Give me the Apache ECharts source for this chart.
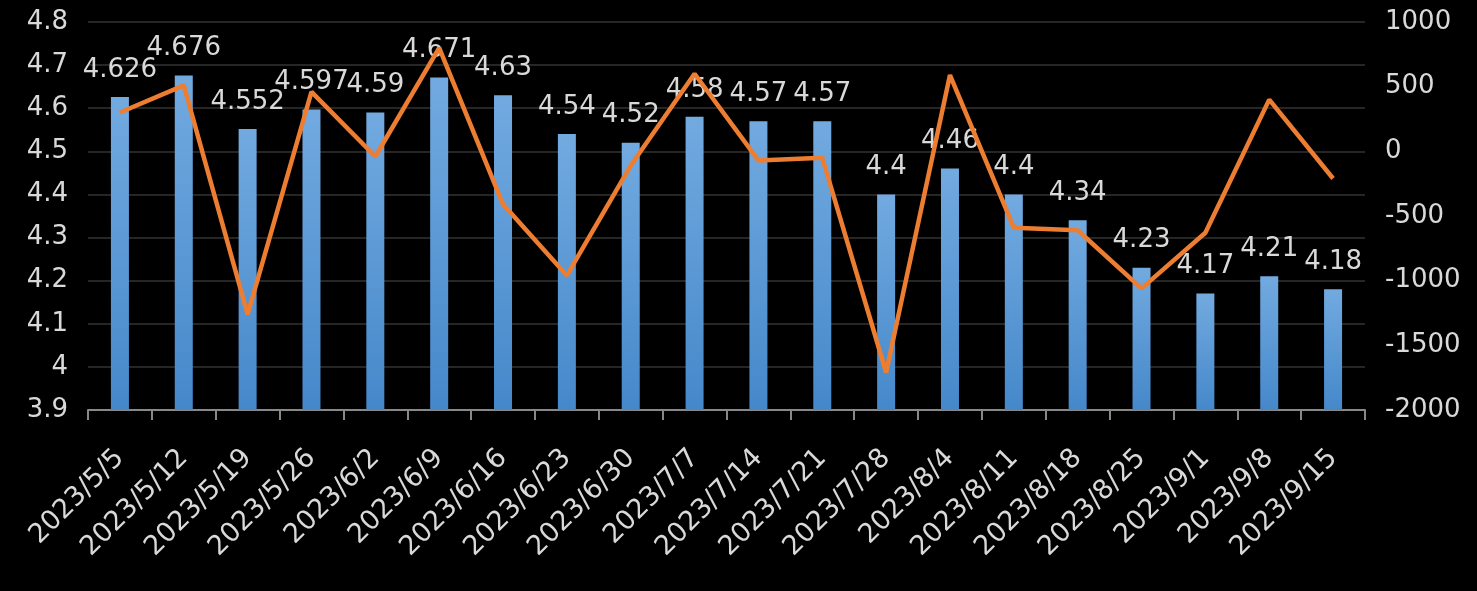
<!DOCTYPE html>
<html>
<head>
<meta charset="utf-8">
<script src="https://cdn.jsdelivr.net/npm/echarts@6/dist/echarts.min.js"></script>
<style>
html,body{margin:0;padding:0;background:#000;}
#main{width:1477px;height:591px;}
</style>
</head>
<body>
<div id="main"></div>
<script>
const categories = ['2023/5/5','2023/5/12','2023/5/19','2023/5/26','2023/6/2','2023/6/9','2023/6/16','2023/6/23','2023/6/30','2023/7/7','2023/7/14','2023/7/21','2023/7/28','2023/8/4','2023/8/11','2023/8/18','2023/8/25','2023/9/1','2023/9/8','2023/9/15'];
const barValues = [4.626,4.676,4.552,4.597,4.59,4.671,4.63,4.54,4.52,4.58,4.57,4.57,4.4,4.46,4.4,4.34,4.23,4.17,4.21,4.18];
const lineValues = [300,510,-1260,460,-40,800,-410,-960,-110,600,-70,-50,-1710,590,-590,-610,-1060,-630,400,-210];

const font = '"DejaVu Sans", sans-serif';
const txt = '#d9d9d9';
const chart = echarts.init(document.getElementById('main'));
chart.setOption({
  backgroundColor: '#000',
  animation: false,
  grid: {left: 88, right: 112, top: 22, bottom: 181},
  xAxis: {
    type: 'category',
    data: categories,
    boundaryGap: true,
    axisLine: {onZero: false, lineStyle: {color: '#888', width: 2}},
    axisTick: {show: true, length: 10, lineStyle: {color: '#888', width: 2}},
    axisLabel: {rotate: 45, color: txt, fontSize: 27, fontFamily: font, margin: 44, interval: 0}
  },
  yAxis: [{
    type: 'value', min: 3.9, max: 4.8, interval: 0.1,
    axisLine: {show: false}, axisTick: {show: false},
    axisLabel: {color: txt, fontSize: 26, fontFamily: font, margin: 20},
    splitLine: {lineStyle: {color: '#262626', width: 2}}
  }, {
    type: 'value', min: -2000, max: 1000, interval: 500,
    axisLine: {show: false}, axisTick: {show: false},
    axisLabel: {color: txt, fontSize: 26, fontFamily: font, margin: 20, formatter: v => String(v)},
    splitLine: {show: false}
  }],
  series: [{
    type: 'bar',
    data: barValues,
    yAxisIndex: 0,
    barWidth: 18,
    itemStyle: {color: new echarts.graphic.LinearGradient(0,0,0,1,[{offset:0,color:'#72aae0'},{offset:1,color:'#4588ca'}])},
    label: {show: true, position: 'top', distance: 14, color: txt, fontSize: 26, fontFamily: font}
  }, {
    type: 'line',
    data: lineValues,
    yAxisIndex: 1,
    symbol: 'none',
    lineStyle: {color: '#ed7d31', width: 4.5},
    itemStyle: {color: '#ed7d31'}
  }]
});
</script>
</body>
</html>
